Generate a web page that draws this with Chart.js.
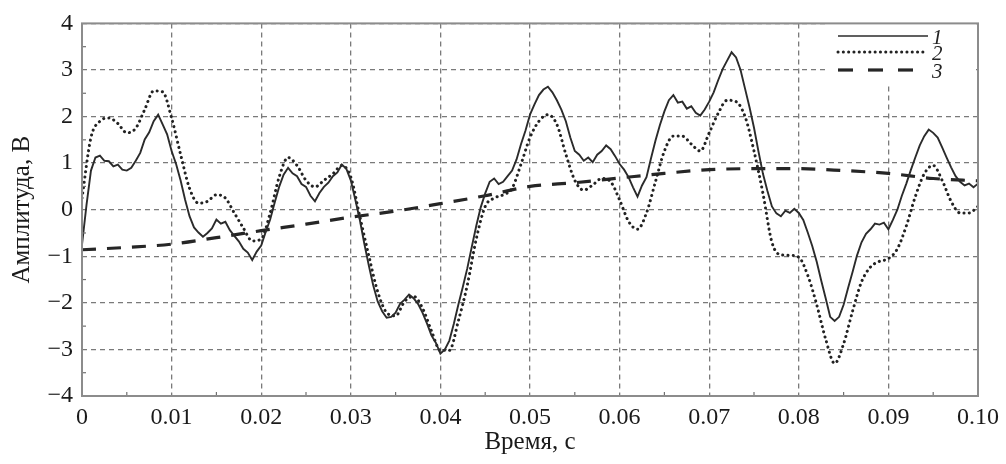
<!DOCTYPE html>
<html><head><meta charset="utf-8">
<script src="https://cdn.jsdelivr.net/npm/chart.js@4"></script>
<style>html,body{margin:0;padding:0;background:#fff}#w{width:1006px;height:464px;position:relative}</style>
</head><body><div id="w"><canvas id="c"></canvas></div>
<script>
// Series 1 (solid), sampled every 0.0005 s from 0 to 0.1 s
const series1 = [
 -0.75,0.10,0.84,1.12,1.16,1.05,1.04,0.93,0.97,0.86,
 0.84,0.90,1.05,1.22,1.51,1.66,1.90,2.04,1.83,1.62,
 1.26,0.98,0.63,0.22,-0.14,-0.38,-0.49,-0.58,-0.50,-0.40,
 -0.21,-0.30,-0.26,-0.44,-0.56,-0.68,-0.84,-0.92,-1.08,-0.90,
 -0.77,-0.48,-0.21,0.15,0.49,0.75,0.90,0.78,0.72,0.55,
 0.49,0.30,0.18,0.36,0.49,0.58,0.72,0.80,0.97,0.88,
 0.63,0.22,-0.21,-0.72,-1.19,-1.62,-1.97,-2.18,-2.32,-2.30,
 -2.21,-2.02,-1.93,-1.82,-1.90,-2.02,-2.21,-2.44,-2.70,-2.86,
 -3.09,-3.00,-2.81,-2.45,-2.04,-1.66,-1.26,-0.80,-0.35,0.05,
 0.35,0.60,0.67,0.55,0.60,0.72,0.84,1.08,1.41,1.70,
 2.04,2.26,2.46,2.58,2.64,2.52,2.35,2.15,1.90,1.55,
 1.26,1.18,1.05,1.12,1.02,1.18,1.26,1.38,1.30,1.15,
 0.98,0.86,0.70,0.48,0.28,0.52,0.70,1.10,1.48,1.82,
 2.11,2.35,2.46,2.30,2.32,2.17,2.22,2.08,2.02,2.15,
 2.32,2.52,2.78,3.02,3.20,3.38,3.27,3.00,2.60,2.20,
 1.76,1.25,0.77,0.40,0.07,-0.08,-0.14,-0.02,-0.07,0.02,
 -0.07,-0.22,-0.49,-0.78,-1.12,-1.52,-1.90,-2.30,-2.39,-2.30,
 -2.04,-1.68,-1.34,-0.98,-0.70,-0.52,-0.42,-0.30,-0.32,-0.28,
 -0.42,-0.22,0.00,0.30,0.56,0.85,1.12,1.38,1.58,1.72,
 1.65,1.55,1.34,1.12,0.91,0.72,0.60,0.52,0.56,0.48,
 0.56
];
// Series 2 (dotted), sampled every 0.001 s
const series2 = [
 0.25,1.55,1.90,1.97,1.85,1.65,1.75,2.15,2.55,2.53,
 1.97,1.19,0.46,0.14,0.18,0.32,0.25,-0.07,-0.39,-0.67,
 -0.63,-0.07,0.70,1.12,0.95,0.63,0.49,0.63,0.77,0.95,
 0.70,-0.14,-0.98,-1.76,-2.21,-2.28,-1.97,-1.86,-2.11,-2.60,
 -3.02,-3.02,-2.39,-1.62,-0.63,0.07,0.25,0.32,0.46,0.98,
 1.55,1.90,2.04,1.83,1.19,0.63,0.42,0.53,0.67,0.60,
 0.21,-0.25,-0.42,-0.07,0.60,1.26,1.58,1.58,1.41,1.26,
 1.65,2.07,2.35,2.32,2.00,1.26,0.35,-0.70,-0.97,-0.98,
 -1.02,-1.41,-2.04,-2.78,-3.30,-2.88,-2.18,-1.55,-1.23,-1.11,
 -1.05,-0.84,-0.35,0.28,0.77,0.95,0.63,0.18,-0.07,-0.07,
 0.07
];
// Series 3 (dashed), sampled every 0.005 s
const series3 = [
 -0.86,-0.81,-0.74,-0.60,-0.45,-0.31,-0.16,-0.03,0.13,0.30,
 0.50,0.58,0.68,0.78,0.86,0.88,0.88,0.84,0.78,0.67,0.62
];
const step1 = 0.0005, step2 = 0.001, step3 = 0.005;
const seriesNames = ['1','2','3'];
const xTicks = [0,0.01,0.02,0.03,0.04,0.05,0.06,0.07,0.08,0.09,0.10];
const xTickLabels = ['0','0.01','0.02','0.03','0.04','0.05','0.06','0.07','0.08','0.09','0.10'];
const yTicks = [-4,-3,-2,-1,0,1,2,3,4];
const yTickLabels = ['\u22124','\u22123','\u22122','\u22121','0','1','2','3','4'];
const xTitle = 'Время, с';
const yTitle = 'Амплитуда, В';

const toPts = (arr, st) => arr.map((v,i)=>({x:+(i*st).toFixed(5), y:v}));
const SERIF = '"Liberation Serif","DejaVu Serif",serif';

const frame = {
  id:'frame',
  afterDraw(chart){
    const {ctx, chartArea:a, scales:{x,y}} = chart;
    ctx.save();
    ctx.strokeStyle='#707070'; ctx.lineWidth=1.2; ctx.setLineDash([]);
    for(let k=0;k<8;k++){
      const v=-3.5+k; const py=y.getPixelForValue(v);
      ctx.beginPath(); ctx.moveTo(a.left,py); ctx.lineTo(a.left+4,py); ctx.stroke();
    }
    for(let k=0;k<10;k++){
      const v=0.005+0.01*k; const px=x.getPixelForValue(v);
      ctx.beginPath(); ctx.moveTo(px,a.bottom); ctx.lineTo(px,a.bottom-4); ctx.stroke();
    }
    const lx=826, ly=19;
    ctx.fillStyle='#ffffff'; ctx.fillRect(lx,ly,150,66);
    const ds=chart.data.datasets;
    const rows=[36,52,70];
    ds.forEach((d,i)=>{
      ctx.save();
      ctx.strokeStyle=d.borderColor; ctx.lineWidth=i===0?1.4:d.borderWidth;
      ctx.lineCap=d.borderCapStyle||'butt';
      ctx.setLineDash(i===2?[15,15]:(d.borderDash||[]));
      ctx.beginPath(); ctx.moveTo(838,rows[i]); ctx.lineTo(i===2?913:928,rows[i]); ctx.stroke();
      ctx.restore();
      ctx.fillStyle='#222'; ctx.font='italic 21px '+SERIF; ctx.textBaseline='middle'; ctx.textAlign='left';
      ctx.fillText(seriesNames[i],932,rows[i]+2);
    });
    ctx.strokeStyle='#8c8c8c'; ctx.lineWidth=2; ctx.setLineDash([]);
    ctx.strokeRect(a.left,a.top,a.right-a.left,a.bottom-a.top);
    ctx.restore();
  }
};

new Chart(document.getElementById('c'), {
  type:'line',
  data:{datasets:[
    {label:'1', data:toPts(series1,step1), borderColor:'#2b2b2b', borderWidth:1.9, pointRadius:0, tension:0, order:1},
    {label:'2', data:toPts(series2,step2), borderColor:'#222222', borderWidth:3, borderDash:[0.1,5.2], borderCapStyle:'round', pointRadius:0, cubicInterpolationMode:'monotone', order:2},
    {label:'3', data:toPts(series3,step3), borderColor:'#262626', borderWidth:3.2, borderDash:[14,11], pointRadius:0, cubicInterpolationMode:'monotone', order:3}
  ]},
  options:{
    responsive:true, maintainAspectRatio:false, animation:false,
    layout:{padding:{left:0,right:27,top:17,bottom:0}},
    plugins:{legend:{display:false}, tooltip:{enabled:false}},
    scales:{
      x:{type:'linear', min:0, max:0.1,
        afterBuildTicks(s){ s.ticks = xTicks.map(v=>({value:v})); },
        afterFit(s){ s.height = 68; },
        ticks:{autoSkip:false, maxRotation:0, padding:7, color:'#1a1a1a', font:{family:SERIF,size:24},
          callback:(v,i)=>xTickLabels[i]},
        grid:{color:'#7a7a7a', lineWidth:1.3, drawTicks:false},
        border:{display:false, dash:[5,4]},
        title:{display:true, text:xTitle, color:'#1a1a1a', font:{family:SERIF,size:25}, padding:{top:0,bottom:7}}
      },
      y:{type:'linear', min:-4, max:4,
        afterBuildTicks(s){ s.ticks = yTicks.map(v=>({value:v})); },
        afterFit(s){ s.width = 82; },
        ticks:{autoSkip:false, padding:9, color:'#1a1a1a', font:{family:SERIF,size:24},
          callback:(v,i)=>yTickLabels[i]},
        grid:{color:'#7a7a7a', lineWidth:1.3, drawTicks:false},
        border:{display:false, dash:[5,4]},
        title:{display:true, text:yTitle, color:'#1a1a1a', font:{family:SERIF,size:25}, padding:{top:7,bottom:0}}
      }
    }
  },
  plugins:[frame]
});
</script></body></html>
